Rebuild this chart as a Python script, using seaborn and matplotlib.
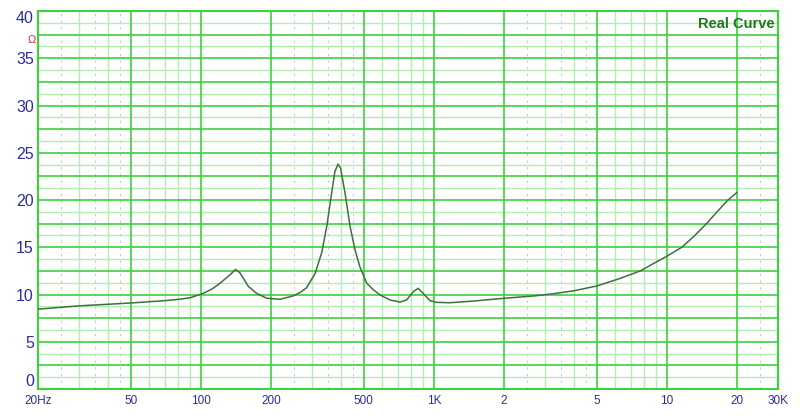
import matplotlib
matplotlib.use('Agg')
import matplotlib.pyplot as plt
import numpy as np
import pandas as pd
import seaborn as sns

# impedance curve (Hz, ohm)
freq = [20, 30, 50, 70, 81, 90, 102, 112, 121, 133, 141, 147, 160, 174, 192,
        219, 249, 266, 284, 309, 330, 347, 364, 376, 388, 398, 416, 437, 459,
        482, 515, 550, 588, 648, 716, 764, 816, 857, 901, 962, 1028, 1172,
        1470, 2000, 2700, 3300, 4000, 5000, 6300, 7700, 8800, 10000, 11600,
        13000, 14800, 16500, 18300, 20000]
impedance = [8.45, 8.8, 9.1, 9.35, 9.5, 9.66, 10.1, 10.6, 11.2, 12.06, 12.66, 12.3, 10.85, 10.1, 9.6,
             9.5, 9.85, 10.2, 10.7, 12.2, 14.4, 17.2, 20.7, 23.0, 23.8, 23.35, 20.7, 17.2, 14.7,
             12.9, 11.2, 10.5, 9.95, 9.42, 9.2, 9.42, 10.3, 10.65, 10.1, 9.35, 9.17, 9.13,
             9.3, 9.6, 9.85, 10.1, 10.4, 10.9, 11.7, 12.5, 13.3, 14.05, 15.0,
             16.1, 17.5, 18.8, 20.0, 20.8]

x_ticks = [20, 50, 100, 200, 500, 1000, 2000, 5000, 10000, 20000, 30000]
x_labels = ['20Hz', '50', '100', '200', '500', '1K', '2', '5', '10', '20', '30K']
y_ticks = [0, 5, 10, 15, 20, 25, 30, 35, 40]

df = pd.DataFrame({'freq': freq, 'impedance': impedance})

sns.set_style('white')
plt.rcParams['font.family'] = ['Liberation Sans', 'DejaVu Sans']

fig = plt.figure(figsize=(8, 4.19), dpi=100)
ax = fig.add_axes([0.0475, 0.0716, 0.925, 0.9021])
ax.set_xscale('log')
ax.set_xlim(20, 30000)
ax.set_ylim(0, 40)

major_col = '#3cd23c'
minor_col = '#b4ecb4'
dot_col = '#c8c8c8'

# horizontal grid: bright every 2.5, pale every 1.25
for v in np.arange(1.25, 40, 2.5):
    ax.axhline(v, color=minor_col, lw=1, zorder=1)
for v in np.arange(2.5, 40, 2.5):
    ax.axhline(v, color=major_col, lw=1.2, zorder=2)

# vertical grid
bright = [50, 100, 200, 500, 1000, 2000, 5000, 10000, 20000]
pale = []
dotted = []
for dec in [10, 100, 1000, 10000]:
    for m in [3, 4, 6, 7, 8, 9]:
        if 20 < m * dec < 30000:
            pale.append(m * dec)
    for m in [2.5, 3.5, 4.5]:
        if 20 < m * dec < 30000:
            dotted.append(m * dec)
for v in dotted:
    ax.axvline(v, color=dot_col, lw=0.8, ls=(0, (2, 4)), zorder=1)
for v in pale:
    ax.axvline(v, color=minor_col, lw=1, zorder=1)
for v in bright:
    ax.axvline(v, color=major_col, lw=1.2, zorder=2)

sns.lineplot(data=df, x='freq', y='impedance', ax=ax, color='#3f6f3f', lw=1.1, zorder=5)

for s in ax.spines.values():
    s.set_color(major_col)
    s.set_linewidth(1.5)

ax.set_xticks(x_ticks)
ax.set_xticklabels(x_labels)
ax.minorticks_off()
ax.set_yticks(y_ticks)
ax.tick_params(axis='x', length=0, pad=4, labelsize=8.5, labelcolor='#2c2ca0')
ax.tick_params(axis='y', length=0, pad=3, labelsize=11.5, labelcolor='#2c2ca0')
ax.set_xlabel('')
ax.set_ylabel('')

# end labels sit inside the axis range like in the original
ylabs = ax.get_yticklabels()
ylabs[0].set_va('bottom')
ylabs[-1].set_va('top')

fig.text(0.039, 0.905, 'Ω', color='#d03030', fontsize=8, ha='center', va='center')
ax.text(0.995, 0.985, 'Real Curve', transform=ax.transAxes, ha='right', va='top',
        color='#1a7a1a', fontsize=10.5, fontweight='bold')

fig.savefig('out.png', dpi=100)
